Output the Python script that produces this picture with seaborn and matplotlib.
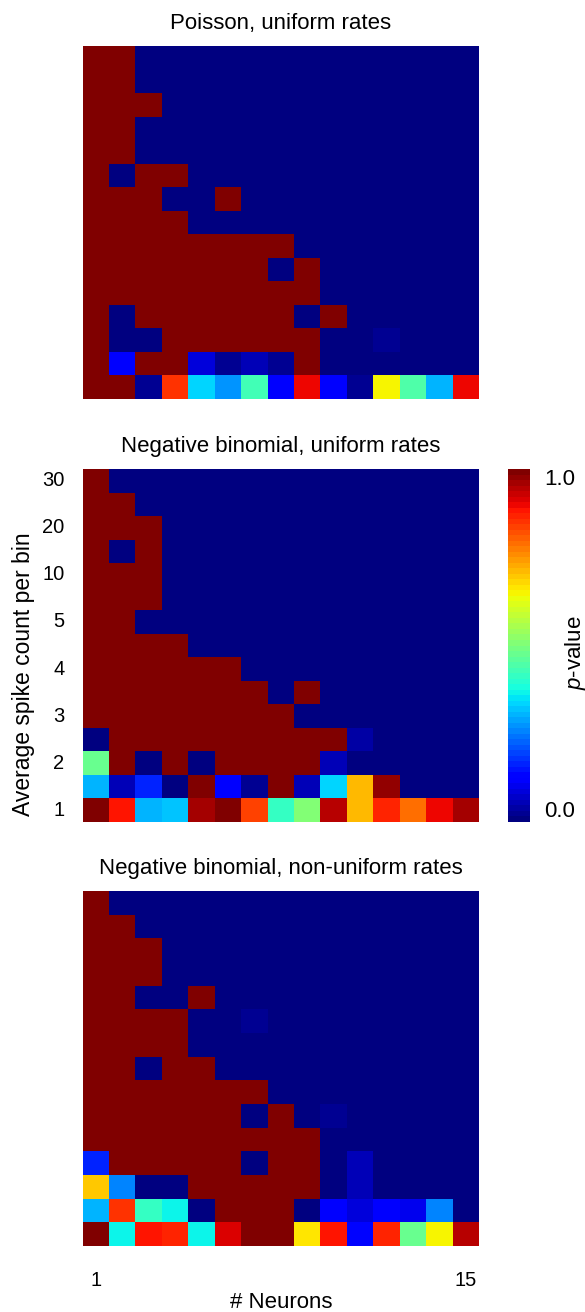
import numpy as np
import matplotlib
matplotlib.use("Agg")
import matplotlib.pyplot as plt
import seaborn as sns

sns.set_style("white")
plt.rcParams['font.family'] = ['Liberation Sans', 'DejaVu Sans']
plt.rcParams['mathtext.fontset'] = 'custom'
plt.rcParams['mathtext.it'] = 'Liberation Sans:italic'
plt.rcParams['mathtext.rm'] = 'Liberation Sans'
for k in ['text.color', 'axes.labelcolor', 'xtick.color', 'ytick.color']:
    plt.rcParams[k] = 'black'

# ---- data (rows: top = highest spike count, bottom = 1; columns: 1..15 neurons)
poisson_uniform = [
    [1, 1, 0, 0, 0, 0, 0, 0, 0, 0, 0, 0, 0, 0, 0],
    [1, 1, 0, 0, 0, 0, 0, 0, 0, 0, 0, 0, 0, 0, 0],
    [1, 1, 1, 0, 0, 0, 0, 0, 0, 0, 0, 0, 0, 0, 0],
    [1, 1, 0, 0, 0, 0, 0, 0, 0, 0, 0, 0, 0, 0, 0],
    [1, 1, 0, 0, 0, 0, 0, 0, 0, 0, 0, 0, 0, 0, 0],
    [1, 0, 1, 1, 0, 0, 0, 0, 0, 0, 0, 0, 0, 0, 0],
    [1, 1, 1, 0, 0, 1, 0, 0, 0, 0, 0, 0, 0, 0, 0],
    [1, 1, 1, 1, 0, 0, 0, 0, 0, 0, 0, 0, 0, 0, 0],
    [1, 1, 1, 1, 1, 1, 1, 1, 0, 0, 0, 0, 0, 0, 0],
    [1, 1, 1, 1, 1, 1, 1, 0, 1, 0, 0, 0, 0, 0, 0],
    [1, 1, 1, 1, 1, 1, 1, 1, 1, 0, 0, 0, 0, 0, 0],
    [1, 0, 1, 1, 1, 1, 1, 1, 0, 1, 0, 0, 0, 0, 0],
    [1, 0, 0, 1, 1, 1, 1, 1, 1, 0, 0, 0.02, 0, 0, 0],
    [1, 0.11, 1, 1, 0.08, 0.02, 0.05, 0.02, 1, 0, 0, 0, 0, 0, 0],
    [1, 1, 0.02, 0.85, 0.34, 0.28, 0.43, 0.12, 0.90, 0.12, 0.03, 0.65, 0.45, 0.30, 0.90],
]

negbin_uniform = [
    [1, 0, 0, 0, 0, 0, 0, 0, 0, 0, 0, 0, 0, 0, 0],
    [1, 1, 0, 0, 0, 0, 0, 0, 0, 0, 0, 0, 0, 0, 0],
    [1, 1, 1, 0, 0, 0, 0, 0, 0, 0, 0, 0, 0, 0, 0],
    [1, 0, 1, 0, 0, 0, 0, 0, 0, 0, 0, 0, 0, 0, 0],
    [1, 1, 1, 0, 0, 0, 0, 0, 0, 0, 0, 0, 0, 0, 0],
    [1, 1, 1, 0, 0, 0, 0, 0, 0, 0, 0, 0, 0, 0, 0],
    [1, 1, 0, 0, 0, 0, 0, 0, 0, 0, 0, 0, 0, 0, 0],
    [1, 1, 1, 1, 0, 0, 0, 0, 0, 0, 0, 0, 0, 0, 0],
    [1, 1, 1, 1, 1, 1, 0, 0, 0, 0, 0, 0, 0, 0, 0],
    [1, 1, 1, 1, 1, 1, 1, 0, 1, 0, 0, 0, 0, 0, 0],
    [1, 1, 1, 1, 1, 1, 1, 1, 0, 0, 0, 0, 0, 0, 0],
    [0, 1, 1, 1, 1, 1, 1, 1, 1, 1, 0.04, 0, 0, 0, 0],
    [0.47, 1, 0, 1, 0, 1, 1, 1, 1, 0.06, 0, 0, 0, 0, 0],
    [0.31, 0.05, 0.16, 0.01, 1, 0.12, 0.02, 1, 0.05, 0.34, 0.71, 0.98, 0, 0, 0],
    [1, 0.89, 0.31, 0.32, 0.96, 0.99, 0.83, 0.41, 0.50, 0.94, 0.71, 0.86, 0.79, 0.90, 0.96],
]

negbin_nonuniform = [
    [1, 0, 0, 0, 0, 0, 0, 0, 0, 0, 0, 0, 0, 0, 0],
    [1, 1, 0, 0, 0, 0, 0, 0, 0, 0, 0, 0, 0, 0, 0],
    [1, 1, 1, 0, 0, 0, 0, 0, 0, 0, 0, 0, 0, 0, 0],
    [1, 1, 1, 0, 0, 0, 0, 0, 0, 0, 0, 0, 0, 0, 0],
    [1, 1, 0, 0, 1, 0, 0, 0, 0, 0, 0, 0, 0, 0, 0],
    [1, 1, 1, 1, 0, 0, 0.02, 0, 0, 0, 0, 0, 0, 0, 0],
    [1, 1, 1, 1, 0, 0, 0, 0, 0, 0, 0, 0, 0, 0, 0],
    [1, 1, 0, 1, 1, 0, 0, 0, 0, 0, 0, 0, 0, 0, 0],
    [1, 1, 1, 1, 1, 1, 1, 0, 0, 0, 0, 0, 0, 0, 0],
    [1, 1, 1, 1, 1, 1, 0, 1, 0, 0.02, 0, 0, 0, 0, 0],
    [1, 1, 1, 1, 1, 1, 1, 1, 1, 0, 0, 0, 0, 0, 0],
    [0.16, 1, 1, 1, 1, 1, 0, 1, 1, 0, 0.06, 0, 0, 0, 0],
    [0.69, 0.26, 0, 0, 1, 1, 1, 1, 1, 0, 0.06, 0, 0, 0, 0],
    [0.30, 0.85, 0.41, 0.37, 0, 1, 1, 1, 0, 0.12, 0.08, 0.11, 0.10, 0.25, 0],
    [1, 0.36, 0.89, 0.86, 0.36, 0.92, 1, 1, 0.66, 0.89, 0.14, 0.86, 0.48, 0.65, 0.95],
]

panel_titles = ["Poisson, uniform rates",
                "Negative binomial, uniform rates",
                "Negative binomial, non-uniform rates"]
y_tick_labels = ["30", "", "20", "", "10", "", "5", "", "4", "", "3", "", "2", "", "1"]
x_tick_labels = ["1"] + [""] * 13 + ["15"]
cbar_ticks = [0.0, 1.0]
cbar_tick_labels = ["0.0", "1.0"]

# ---- figure
W, H = 585, 1312
fig = plt.figure(figsize=(W / 100, H / 100), dpi=100)

def rect(x0, y0, x1, y1):
    return [x0 / W, 1 - y1 / H, (x1 - x0) / W, (y1 - y0) / H]

ax_rects = [rect(82.5, 46, 479, 399), rect(82.5, 469, 479, 822), rect(82.5, 891, 479, 1246)]
cax = fig.add_axes(rect(508, 469, 530, 822))
cmap = plt.get_cmap('jet', 64)
fs_title = 16
fs_tick = 14.5

datasets = [poisson_uniform, negbin_uniform, negbin_nonuniform]
for i, (data, title, r) in enumerate(zip(datasets, panel_titles, ax_rects)):
    ax = fig.add_axes(r)
    arr = np.array(data, dtype=float)
    sns.heatmap(arr, ax=ax, cmap=cmap, vmin=0, vmax=1,
                cbar=(i == 1), cbar_ax=cax if i == 1 else None,
                xticklabels=x_tick_labels if i == 2 else False,
                yticklabels=y_tick_labels if i == 1 else False,
                linewidths=0)
    ax.set_title(title, fontsize=fs_title, pad=12)
    ax.tick_params(length=0, labelsize=fs_tick)
    if i == 1:
        ax.tick_params(axis='y', pad=13)
        plt.setp(ax.get_yticklabels(), rotation=0)
    if i == 2:
        ax.tick_params(axis='x', pad=18)
        plt.setp(ax.get_xticklabels(), rotation=0)
    for s in ax.spines.values():
        s.set_visible(False)

fig.text(281 / W, 1 - 1308 / H, "# Neurons", fontsize=fs_title,
         ha='center', va='baseline')
fig.text(24 / W, 1 - 674 / H, "Average spike count per bin", fontsize=16.5,
         rotation=90, ha='center', va='center')

cax.set_yticks(cbar_ticks)
cax.set_yticklabels(cbar_tick_labels)
cax.tick_params(length=0, labelsize=fs_title, pad=10)
labs = cax.get_yticklabels()
labs[0].set_va('bottom')
labs[1].set_va('top')
for s in cax.spines.values():
    s.set_visible(False)
fig.text(575 / W, 1 - 653 / H, "$p$-value", fontsize=fs_title,
         rotation=90, ha='center', va='center')

fig.savefig("out.png", dpi=100)
